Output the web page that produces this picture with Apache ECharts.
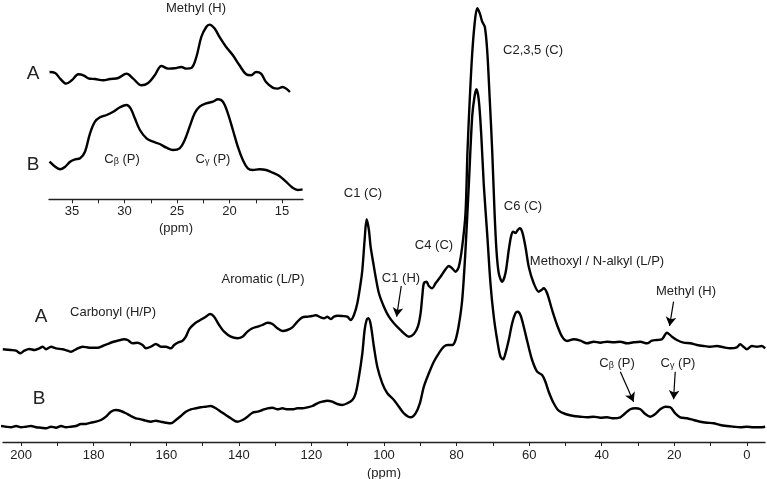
<!DOCTYPE html>
<html>
<head>
<meta charset="utf-8">
<script src="https://cdn.jsdelivr.net/npm/echarts@6/dist/echarts.min.js"></script>
<style>
html,body{margin:0;padding:0;background:#fff;}
#chart{width:767px;height:479px;}
</style>
</head>
<body>
<div id="chart"></div>
<script>
// ---- Main spectrum A (ppm, relative intensity) ----
var ppmA = [205.06,202.78,201.40,200.22,199.12,197.74,196.36,194.99,194.05,193.14,191.76,190.39,188.55,187.17,186.26,184.89,183.04,181.22,178.91,177.54,176.16,174.78,173.41,171.59,170.66,169.28,167.90,166.53,165.62,164.24,162.87,161.49,160.11,158.74,157.83,156.89,155.52,154.61,153.70,152.32,150.95,149.10,147.92,146.82,145.44,144.07,142.22,140.38,139.00,137.63,136.25,134.87,133.50,132.12,130.74,129.37,127.99,126.62,125.24,123.86,122.49,121.11,119.73,118.82,117.45,116.54,115.61,114.70,113.79,112.85,111.48,110.10,109.19,108.28,107.35,106.44,105.97,105.34,104.79,104.16,103.69,102.94,102.31,101.40,100.03,98.65,97.27,95.90,94.52,93.15,91.77,90.67,89.92,89.46,89.02,88.27,87.64,86.70,85.79,84.42,83.04,82.14,81.20,80.29,79.38,78.45,77.54,77.00,76.40,75.75,75.06,74.32,73.60,72.94,72.22,71.57,70.85,70.19,69.56,69.01,68.37,67.44,66.53,65.62,64.96,64.41,63.78,63.14,62.59,61.93,61.02,60.11,58.74,57.36,56.62,55.99,55.05,53.67,52.30,50.92,49.55,47.73,45.88,44.04,42.22,40.38,38.54,36.72,34.87,33.03,31.21,29.37,27.53,26.15,24.77,23.40,22.02,20.64,19.27,17.45,15.61,13.76,11.95,10.10,8.26,6.44,4.60,2.75,1.84,0.94,0.00,-1.38,-2.75,-4.13,-5.04];
var intA = [92.7,92,91.3,88.7,91.3,93,92,93.7,95.3,92.7,95.3,93.7,92.7,91.3,90.3,92.7,95.3,94.3,94.3,96,98,100,101.3,102.7,102,98.7,99.3,97,93.7,95.3,98,95.3,95.3,93.7,97,99.3,101.3,105.3,112.7,118,121.3,125.3,128,125.3,117,110.3,105.3,103.7,105.3,110.3,113.7,115.3,117,119.3,118,113.7,111,112,114.7,120.3,124.7,125.3,126,126.7,124.7,123.7,125.3,123,125.3,126.3,126,125.3,122,127,138.7,158.7,172,202,222.7,212,195.3,178.7,165.3,148.7,135.3,125.3,118.7,113.7,108.7,105.3,108,115.3,128.7,145.3,158.7,160.3,156,153.7,158.7,165.3,172.7,176,173.7,170.3,175.3,195.3,228.7,290,340,385,417,433.7,428.7,420.3,415.3,392,342,292,232,192,168.7,160.3,168.7,192,206,210.3,209,212,213.7,210.3,195.3,175.3,158.7,150.3,152,153.7,148.7,132,117,105.3,101,102.7,101.3,98.7,100.3,99.3,100.3,99.7,100.3,98.7,99.7,100.3,98.7,101.3,102,102.7,109.3,105.3,102,99.3,98.7,97,96,95.3,96,94.7,93.7,94.7,97.7,95.3,92.7,96,95.3,96,93.7];

// ---- Main spectrum B ----
var ppmB = [205.53,204.15,202.78,201.40,200.03,198.65,197.27,195.90,194.52,193.14,191.77,190.39,189.01,187.64,186.26,184.89,183.51,182.13,180.76,179.38,178.00,176.63,175.25,173.88,172.50,171.12,169.75,168.37,166.99,165.62,164.24,162.87,161.49,160.11,158.74,157.36,155.98,154.61,153.23,151.86,150.48,149.10,147.73,146.35,144.97,143.60,142.22,140.38,139.00,137.63,136.25,134.87,133.50,132.12,130.74,129.37,127.99,126.62,125.24,123.86,122.49,121.11,119.73,118.36,116.98,115.61,114.23,112.85,111.48,110.10,108.72,107.81,106.91,105.97,105.34,104.79,104.32,103.69,102.78,101.85,100.47,99.09,97.27,95.90,94.52,92.68,91.30,90.12,89.02,87.64,86.27,84.89,83.51,82.41,81.20,80.29,79.38,78.45,77.54,76.63,75.70,75.06,74.51,73.88,73.22,72.50,71.57,70.66,69.75,68.81,67.91,67.16,66.53,65.62,64.68,63.78,63.14,62.40,61.49,60.39,59.18,57.80,56.43,55.52,54.61,53.23,51.86,50.01,47.73,45.88,44.04,42.22,40.38,38.54,36.72,34.87,33.50,32.12,30.75,29.37,27.99,26.62,25.24,23.87,22.49,21.11,19.74,18.36,16.52,14.70,12.85,11.01,9.19,7.35,5.51,3.69,1.84,0.00,-1.82,-3.66,-5.04];
var intB = [16,15.3,14.7,16,14.7,15.3,16,14.7,14.3,13.7,15.3,14.3,16,14.7,15.3,16,18,18,19.3,20.3,22,25.3,30.3,32,31,28.7,26,23.7,22.7,21.3,20.3,21.3,20.3,19.3,18.7,22,26,30.3,32.7,33.7,34.7,35.3,36,33.7,30.3,27,23.7,20.3,22,25.3,29.3,30.3,32,33.7,34.3,32.7,33.7,32.7,32.7,33.7,33.7,34.7,36,38.7,40.3,41.3,40.3,38,37,38.7,42,48.7,65.3,88.7,112,122,123.7,118,95.3,75.3,58.7,48.7,42,35.3,28.7,24.7,28.7,38.7,55.3,68.7,80.3,88.7,95.3,97,97,102,117,142,192,257,325.3,345.3,352.7,342,308.7,257,208.7,158.7,125.3,102,85.3,82.7,88.7,102,118.7,128.7,130.3,127,115.3,98.7,82,70.3,67,60.3,50.3,38.7,31.3,28,26,25.3,24.7,25.3,24.3,24.7,23.7,24.7,28.7,32.7,33.7,32.7,28,25.3,28,32.7,35.3,34.7,28.7,24.7,23.7,22,20.3,19.3,18.7,17,16,15.3,14.7,15.3,14.7,14.7,15.3];

// ---- Inset (expanded alkyl region) ----
var insetPpmA = [37.15,36.61,36.14,35.57,35.03,34.40,33.92,33.45,32.82,32.03,31.39,30.60,29.81,29.18,28.39,27.75,27.12,26.49,25.85,25.22,24.59,24.11,23.64,23.16,22.69,22.22,21.90,21.42,20.95,20.32,19.68,19.05,18.42,17.94,17.47,17.00,16.52,15.89,15.41,14.94,14.62,14.24];
var insetIntA = [127.3,126.3,120.7,115.7,119,125,124,121,120.3,119,120.3,121.3,125.7,120.7,114,116.3,124,133.3,130.7,131,132.3,130.7,131.3,142.3,162.3,172.3,174.7,170.7,162.3,152.3,144,134,125,124,127.3,125.7,117.3,111.7,110.7,112.3,110.7,107.3];
var insetPpmB = [37.15,36.61,36.14,35.66,35.19,34.72,34.24,33.77,33.29,32.82,32.34,31.71,31.08,30.44,29.81,29.43,29.02,28.54,27.91,27.28,26.65,26.01,25.38,24.75,24.27,23.80,23.32,22.85,22.22,21.58,21.11,20.63,20.16,19.68,19.21,18.73,18.26,17.78,17.15,16.52,15.89,15.25,14.62,13.99,13.51,13.04];
var insetIntB = [37.6,32.6,30,32.6,37.6,40,41,47.6,66,77.6,82,84.3,87.6,92,94.3,91,81,69.3,61,57.6,55.3,51.6,49.3,51,59.3,72.6,86,92.6,96,97.6,100,97.6,86,69.3,52.6,39.3,31,29.3,30,29.3,26.6,23.3,17.6,11.6,9.3,10];

// ---- Tick values ----
var mainLabels = [0,20,40,60,80,100,120,140,160,180,200];
var mainTicks = [0,10,20,30,40,50,60,70,80,90,100,110,120,130,140,150,160,170,180,190,200];
var insetLabels = [15,20,25,30,35];
var insetTicks = [15,17.5,20,22.5,25,27.5,30,32.5,35];

// ---- Annotation arrows (tail ppm,int -> head ppm,int) ----
var arrowsMain = [
  [[95.24,156],[96.53,125.3]],
  [[20.20,140.3],[21.30,116]],
  [[34.87,70.3],[31.21,40.3]],
  [[19.74,70.3],[20.20,42.7]]
];

function zip(xs, ys){ return xs.map(function(x,i){ return [x, ys[i]]; }); }

var FONT = '"Liberation Sans", Arial, sans-serif';
var TXT = '#222';
var sub = { sub: { fontSize: 9, fontFamily: FONT, fill: TXT, color: TXT, padding: [5,0,0,0] }, n: { fontSize: 13, fontFamily: FONT, color: TXT } };

function label(x, y, text, size){
  return { type:'text', x:x, y:y, silent:true,
    style:{ text:text, fill:TXT, font: (size||13) + 'px ' + FONT, align:'center', verticalAlign:'middle' } };
}
function richLabel(x, y, text){
  return { type:'text', x:x, y:y, silent:true,
    style:{ text:text, fill:TXT, font:'13px ' + FONT, align:'center', verticalAlign:'middle', rich: sub } };
}

var axisCommon = {
  type:'value', inverse:true,
  axisLine:{ show:true, onZero:false, lineStyle:{ color:'#222', width:1.3 } },
  splitLine:{ show:false },
  axisLabel:{ color:'#222', fontSize:13, fontFamily:FONT, margin:7 },
  axisTick:{ show:true, inside:false, length:4, lineStyle:{ color:'#222', width:1 } }
};

var chart = echarts.init(document.getElementById('chart'), null, {renderer:'canvas'});
chart.setOption({
  animation:false,
  backgroundColor:'#fff',
  grid:[
    { left:3, right:2, top:0, bottom:37, outerBoundsMode:'none' },
    { left:49, width:254, top:0, height:199.3, outerBoundsMode:'none' }
  ],
  xAxis:[
    Object.assign({}, axisCommon, {
      gridIndex:0, min:-5, max:205,
      name:'(ppm)', nameLocation:'middle', nameGap:22,
      nameTextStyle:{ color:'#222', fontSize:13, fontFamily:FONT },
      axisLabel:Object.assign({}, axisCommon.axisLabel, { customValues: mainLabels }),
      axisTick:Object.assign({}, axisCommon.axisTick, { customValues: mainTicks })
    }),
    Object.assign({}, axisCommon, {
      gridIndex:1, min:13, max:37.2,
      name:'(ppm)', nameLocation:'middle', nameGap:23,
      nameTextStyle:{ color:'#222', fontSize:13, fontFamily:FONT },
      axisLabel:Object.assign({}, axisCommon.axisLabel, { customValues: insetLabels, margin:6 }),
      axisTick:Object.assign({}, axisCommon.axisTick, { customValues: insetTicks })
    })
  ],
  yAxis:[
    { type:'value', gridIndex:0, min:0, max:442, show:false },
    { type:'value', gridIndex:1, min:0, max:199.3, show:false }
  ],
  series:[
    { name:'A', type:'line', xAxisIndex:0, yAxisIndex:0, data:zip(ppmA,intA), showSymbol:false, smooth:0.3,
      lineStyle:{ color:'#000', width:2.4 }, silent:true,
      markLine:{ silent:true, symbol:['none','arrow'], symbolSize:[8,9], label:{show:false},
        lineStyle:{ color:'#000', width:1.2, type:'solid' },
        data: arrowsMain.map(function(a){ return [{coord:a[0]},{coord:a[1]}]; }) } },
    { name:'B', type:'line', xAxisIndex:0, yAxisIndex:0, data:zip(ppmB,intB), showSymbol:false, smooth:0.3,
      lineStyle:{ color:'#000', width:2.4 }, silent:true },
    { name:'inset A', type:'line', xAxisIndex:1, yAxisIndex:1, data:zip(insetPpmA,insetIntA), showSymbol:false, smooth:0.35,
      lineStyle:{ color:'#000', width:2.4 }, silent:true },
    { name:'inset B', type:'line', xAxisIndex:1, yAxisIndex:1, data:zip(insetPpmB,insetIntB), showSymbol:false, smooth:0.35,
      lineStyle:{ color:'#000', width:2.4 }, silent:true }
  ],
  graphic:[
    label(196, 8, 'Methyl (H)'),
    label(33, 74, 'A', 19),
    label(33, 165, 'B', 19),
    richLabel(122, 159, '{n|C}{sub|β}{n| (P)}'),
    richLabel(213, 159, '{n|C}{sub|γ}{n| (P)}'),
    label(533, 50, 'C2,3,5 (C)'),
    label(523, 206, 'C6 (C)'),
    label(363, 193, 'C1 (C)'),
    label(434, 245, 'C4 (C)'),
    label(401, 278, 'C1 (H)'),
    label(263, 279, 'Aromatic (L/P)'),
    label(597, 261, 'Methoxyl / N-alkyl (L/P)'),
    label(113, 312, 'Carbonyl (H/P)'),
    label(686, 291, 'Methyl (H)'),
    richLabel(617, 363, '{n|C}{sub|β}{n| (P)}'),
    richLabel(678, 363, '{n|C}{sub|γ}{n| (P)}'),
    label(41, 317, 'A', 19),
    label(39, 399, 'B', 19)
  ]
});
</script>
</body>
</html>
